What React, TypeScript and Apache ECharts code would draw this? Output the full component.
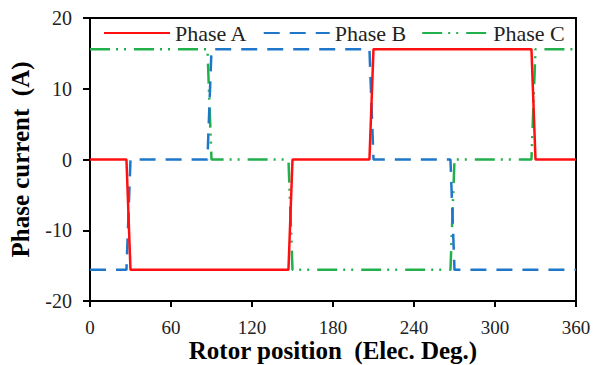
import React, { useEffect, useRef } from "react";
import * as echarts from "echarts";

// Commutation waveforms of a three-phase BLDC drive (120° conduction)
const positionA = [0, 27, 30, 147, 150, 207, 210, 327, 330, 360];
const currentA = [0, 0, -15.6, -15.6, 0, 0, 15.6, 15.6, 0, 0];

const positionB = [0, 27, 30, 87, 90, 207, 210, 267, 270, 360];
const currentB = [-15.6, -15.6, 0, 0, 15.6, 15.6, 0, 0, -15.6, -15.6];

const positionC = [0, 87, 90, 147, 150, 267, 270, 327, 330, 360];
const currentC = [15.6, 15.6, 0, 0, -15.6, -15.6, 0, 0, 15.6, 15.6];

const seriesNames = ["Phase A", "Phase B", "Phase C"];
const xTicks = [0, 60, 120, 180, 240, 300, 360];
const yTicks = [-20, -10, 0, 10, 20];

const pairs = (xs: number[], ys: number[]) => xs.map((x, i) => [x, ys[i]]);

const FONT = "Liberation Serif";

export default function App() {
  const ref = useRef<HTMLDivElement>(null);

  useEffect(() => {
    if (!ref.current) return;
    const chart = echarts.init(ref.current, undefined, { renderer: "svg" });
    chart.setOption({
      animation: false,
      backgroundColor: "#ffffff",
      textStyle: { fontFamily: FONT },
      grid: {
        left: 90,
        right: 20,
        top: 18,
        bottom: 64,
        containLabel: false,
        outerBoundsMode: "none",
        show: true,
        borderColor: "#000",
        borderWidth: 2,
        backgroundColor: "transparent",
      },
      legend: {
        data: seriesNames,
        left: 98,
        top: 17,
        itemWidth: 66,
        itemHeight: 14,
        itemGap: 15,
        itemStyle: { color: "transparent", borderColor: "transparent", borderWidth: 0 },
        textStyle: { fontFamily: FONT, fontSize: 22, color: "#222" },
      },
      xAxis: {
        type: "value",
        min: xTicks[0],
        max: xTicks[xTicks.length - 1],
        interval: 60,
        name: "Rotor position  (Elec. Deg.)",
        nameLocation: "middle",
        nameGap: 37,
        nameMoveOverlap: false,
        nameTextStyle: { fontFamily: FONT, fontSize: 25, fontWeight: "bold", color: "#000" },
        axisLine: { onZero: false, lineStyle: { color: "#000", width: 2 } },
        axisTick: { inside: false, length: 6, lineStyle: { color: "#000", width: 2 } },
        axisLabel: { margin: 17, fontFamily: FONT, fontSize: 19, color: "#222" },
        splitLine: { show: false },
      },
      yAxis: {
        type: "value",
        min: yTicks[0],
        max: yTicks[yTicks.length - 1],
        interval: 10,
        name: "Phase current  (A)",
        nameLocation: "middle",
        nameGap: 57,
        nameMoveOverlap: false,
        nameTextStyle: { fontFamily: FONT, fontSize: 25, fontWeight: "bold", color: "#000" },
        axisLine: { onZero: false, lineStyle: { color: "#000", width: 2 } },
        axisTick: { inside: false, length: 7, lineStyle: { color: "#000", width: 2 } },
        axisLabel: { margin: 18, fontFamily: FONT, fontSize: 20, color: "#222" },
        splitLine: { show: false },
      },
      series: [
        {
          name: "Phase C",
          type: "line",
          symbol: "none",
          data: pairs(positionC, currentC),
          itemStyle: { color: "#22b04c" },
          lineStyle: { color: "#22b04c", width: 2.5, type: [20, 6, 2, 6, 2, 8] },
          z: 2,
        },
        {
          name: "Phase B",
          type: "line",
          symbol: "none",
          data: pairs(positionB, currentB),
          itemStyle: { color: "#1f77c9" },
          lineStyle: { color: "#1f77c9", width: 2.5, type: [16, 10] },
          z: 3,
        },
        {
          name: "Phase A",
          type: "line",
          symbol: "none",
          data: pairs(positionA, currentA),
          itemStyle: { color: "#ff1010" },
          lineStyle: { color: "#ff1010", width: 2.5, type: "solid" },
          z: 4,
        },
      ],
    });
    return () => chart.dispose();
  }, []);

  return <div ref={ref} style={{ width: 596, height: 365, position: "absolute", left: 0, top: 0 }} />;
}
